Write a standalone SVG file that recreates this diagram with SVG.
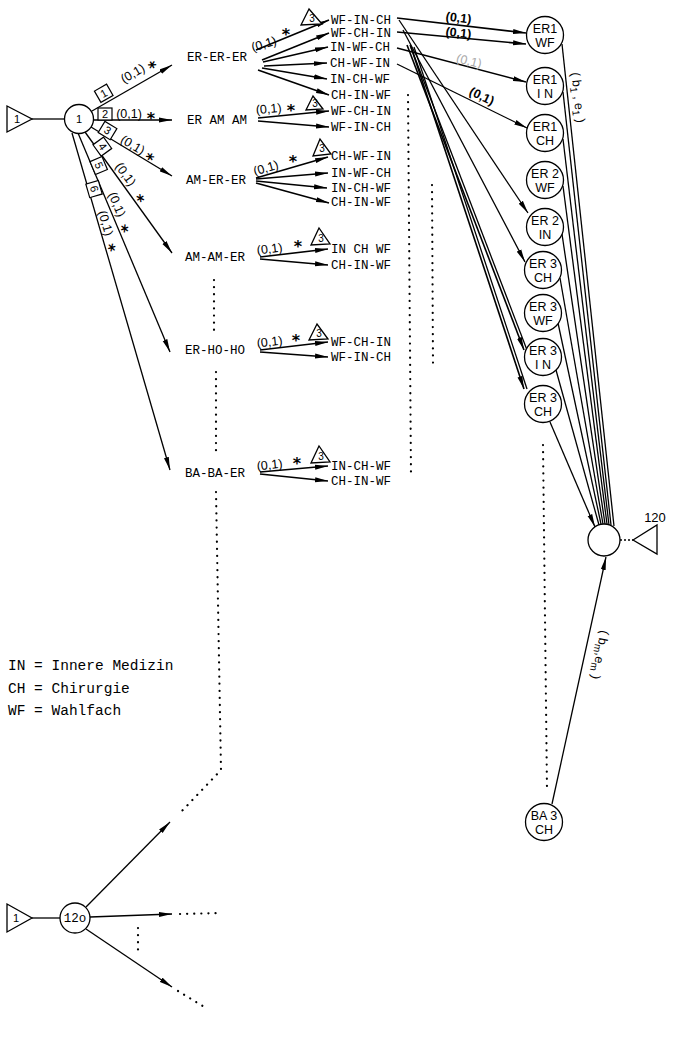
<svg xmlns="http://www.w3.org/2000/svg" width="680" height="1054" viewBox="0 0 680 1054">
<style>
.ln{stroke:#000;stroke-width:1.3;fill:none}
.lnb{stroke:#000;stroke-width:1.6;fill:none}
.dot{stroke:#000;stroke-width:2.2;fill:none;stroke-dasharray:0.1 7;stroke-linecap:round}
.nd{fill:#fff;stroke:#000;stroke-width:1.3}
.mono{font-family:"Liberation Mono","DejaVu Sans Mono",monospace;font-size:12.5px;fill:#000}
.leg{font-family:"Liberation Mono","DejaVu Sans Mono",monospace;font-size:14.5px;fill:#000}
.sans{font-family:"Liberation Sans",Arial,sans-serif;fill:#000}
.cl{font-family:"Liberation Sans",Arial,sans-serif;font-size:12.5px;fill:#000;text-anchor:middle}
.lab{font-family:"Liberation Sans",Arial,sans-serif;font-size:12.5px;fill:#000;text-anchor:middle}
.star{font-family:"DejaVu Sans",sans-serif;font-size:16px;font-weight:bold;fill:#000;text-anchor:middle}
.box{fill:#fff;stroke:#000;stroke-width:1.2}
</style>
<defs>
<marker id="ah" markerWidth="13" markerHeight="6" refX="13" refY="3" orient="auto" markerUnits="userSpaceOnUse"><path d="M0,0.5 L13,3 L0,5.5 z" fill="#000"/></marker>
</defs>
<rect width="680" height="1054" fill="#fff"/>

<g id="connectors">
  <line class="ln" x1="32" y1="119" x2="64" y2="119"/>
  <line class="ln" x1="92" y1="111" x2="172" y2="65" marker-end="url(#ah)"/>
  <line class="lnb" x1="94" y1="120" x2="172" y2="120" marker-end="url(#ah)"/>
  <line class="ln" x1="91" y1="127" x2="172" y2="176" marker-end="url(#ah)"/>
  <line class="ln" x1="85" y1="132" x2="172" y2="253" marker-end="url(#ah)"/>
  <line class="ln" x1="78" y1="133" x2="170" y2="352" marker-end="url(#ah)"/>
  <line class="ln" x1="72" y1="133" x2="170" y2="470" marker-end="url(#ah)"/>
  <line class="lnb" x1="256" y1="50" x2="329" y2="20" marker-end="url(#ah)"/>
  <line class="lnb" x1="262" y1="60" x2="329" y2="33" marker-end="url(#ah)"/>
  <line class="lnb" x1="263" y1="62" x2="328" y2="47" marker-end="url(#ah)"/>
  <line class="lnb" x1="264" y1="66" x2="327" y2="63" marker-end="url(#ah)"/>
  <line class="lnb" x1="262" y1="68" x2="327" y2="79" marker-end="url(#ah)"/>
  <line class="lnb" x1="258" y1="70" x2="329" y2="95" marker-end="url(#ah)"/>
  <line class="lnb" x1="258" y1="118" x2="329" y2="111" marker-end="url(#ah)"/>
  <line class="lnb" x1="258" y1="121" x2="329" y2="127" marker-end="url(#ah)"/>
  <line class="lnb" x1="256" y1="178" x2="328" y2="157" marker-end="url(#ah)"/>
  <line class="lnb" x1="256" y1="179" x2="328" y2="173" marker-end="url(#ah)"/>
  <line class="lnb" x1="256" y1="181" x2="327" y2="188" marker-end="url(#ah)"/>
  <line class="lnb" x1="256" y1="183" x2="329" y2="203" marker-end="url(#ah)"/>
  <line class="lnb" x1="260" y1="257" x2="328" y2="249" marker-end="url(#ah)"/>
  <line class="lnb" x1="260" y1="259" x2="328" y2="265" marker-end="url(#ah)"/>
  <line class="lnb" x1="260" y1="350" x2="328" y2="342" marker-end="url(#ah)"/>
  <line class="lnb" x1="260" y1="352" x2="328" y2="357" marker-end="url(#ah)"/>
  <line class="lnb" x1="260" y1="472" x2="328" y2="466" marker-end="url(#ah)"/>
  <line class="lnb" x1="260" y1="474" x2="328" y2="481" marker-end="url(#ah)"/>
  <line class="lnb" x1="397" y1="18" x2="526" y2="33" marker-end="url(#ah)"/>
  <line class="lnb" x1="397" y1="32" x2="526" y2="44" marker-end="url(#ah)"/>
  <line class="ln" x1="397" y1="48" x2="526" y2="82" marker-end="url(#ah)"/>
  <line class="ln" x1="397" y1="64" x2="527" y2="128" marker-end="url(#ah)"/>
  <line class="ln" x1="399" y1="20" x2="528" y2="213" marker-end="url(#ah)"/>
  <line class="ln" x1="403" y1="30" x2="525" y2="262" marker-end="url(#ah)"/>
  <line class="lnb" x1="407" y1="45" x2="524" y2="350" marker-end="url(#ah)"/>
  <line class="ln" x1="410" y1="45" x2="527" y2="350"/>
  <line class="lnb" x1="411" y1="47" x2="524" y2="389" marker-end="url(#ah)"/>
  <line class="ln" x1="414" y1="47" x2="527" y2="389"/>
  <line class="ln" x1="562" y1="44" x2="614" y2="526"/>
  <line class="ln" x1="563" y1="92" x2="611" y2="525"/>
  <line class="ln" x1="563" y1="139" x2="609" y2="525"/>
  <line class="ln" x1="563" y1="186" x2="607" y2="524"/>
  <line class="ln" x1="562" y1="234" x2="605" y2="524"/>
  <line class="ln" x1="560" y1="278" x2="603" y2="524"/>
  <line class="ln" x1="558" y1="323" x2="601" y2="524"/>
  <line class="ln" x1="556" y1="370" x2="599" y2="525"/>
  <line class="ln" x1="550" y1="422" x2="595" y2="527" marker-end="url(#ah)"/>
  <line class="ln" x1="552" y1="804" x2="606" y2="557" marker-end="url(#ah)"/>
  <line class="ln" x1="620" y1="540" x2="633" y2="540" stroke-dasharray="2 2"/>
  <line class="ln" x1="32" y1="918" x2="60" y2="918"/>
  <line class="ln" x1="86" y1="907" x2="170" y2="822" marker-end="url(#ah)"/>
  <line class="ln" x1="90" y1="917" x2="172" y2="914" marker-end="url(#ah)"/>
  <line class="ln" x1="86" y1="929" x2="172" y2="987" marker-end="url(#ah)"/>
  <line class="dot" x1="214" y1="280" x2="214" y2="330"/>
  <line class="dot" x1="216" y1="372" x2="216" y2="452"/>
  <polyline class="dot" points="216,492 221,770 180,813"/>
  <line class="dot" x1="408" y1="95" x2="411" y2="475"/>
  <line class="dot" x1="432" y1="185" x2="433" y2="365"/>
  <line class="dot" x1="543" y1="445" x2="547" y2="790"/>
  <line class="dot" x1="180" y1="914" x2="222" y2="913"/>
  <line class="dot" x1="178" y1="991" x2="206" y2="1008"/>
  <line class="dot" x1="138" y1="928" x2="138" y2="950"/>
</g>

<g id="label-e1" transform="translate(92,111) rotate(-29.9)">
  <rect class="box" x="12" y="-16" width="14" height="13"/>
  <text class="sans" x="19" y="-5.5" font-size="11" text-anchor="middle">1</text>
  <text class="lab" x="54" y="-8">(0,1)</text>
  <text class="star" x="75" y="-2">*</text>
</g>
<g id="label-e2" transform="translate(94,120)">
  <rect class="box" x="4" y="-12" width="14" height="12"/>
  <text class="sans" x="11" y="-2.5" font-size="11" text-anchor="middle">2</text>
  <text class="lab" x="35" y="-2">(0,1)</text>
  <text class="star" x="57" y="4">*</text>
</g>
<g id="label-e3" transform="translate(91,127) rotate(31.2)">
  <rect class="box" x="9" y="-12" width="14" height="13"/>
  <text class="sans" x="16" y="-2" font-size="11" text-anchor="middle">3</text>
  <text class="lab" x="45" y="-2">(0,1)</text>
  <text class="star" x="66" y="3">*</text>
</g>
<g id="label-e4" transform="translate(85,132) rotate(54.2)">
  <rect class="box" x="15" y="-12" width="14" height="13"/>
  <text class="sans" x="22" y="-2" font-size="11" text-anchor="middle">4</text>
  <text class="lab" x="58" y="-4">(0,1)</text>
  <text class="star" x="86" y="2">*</text>
</g>
<g id="label-e5" transform="translate(78,133) rotate(67.2)">
  <rect class="box" x="31" y="-13" width="14" height="13"/>
  <text class="sans" x="38" y="-3" font-size="11" text-anchor="middle">5</text>
  <text class="lab" x="81" y="-4">(0,1)</text>
  <text class="star" x="106" y="2">*</text>
</g>
<g id="label-e6" transform="translate(72,133) rotate(73.8)">
  <rect class="box" x="53" y="-12" width="14" height="13"/>
  <text class="sans" x="60" y="-2" font-size="11" text-anchor="middle">6</text>
  <text class="lab" x="96" y="-3">(0,1)</text>
  <text class="star" x="121" y="2">*</text>
</g>

<g id="label-gA">
  <text class="lab" transform="translate(265,48) rotate(-16)">(0,1)</text>
  <text class="star" x="286" y="40">*</text>
  <polygon class="nd" points="309,9 301,25 322,24"/>
  <text class="sans" x="312" y="22" font-size="10" text-anchor="middle">3</text>
</g>
<g id="label-gB">
  <text class="lab" transform="translate(269,113) rotate(-5)">(0,1)</text>
  <text class="star" x="291" y="116">*</text>
  <polygon class="nd" points="313,96 306,110 323,109"/>
  <text class="sans" x="315" y="107" font-size="10" text-anchor="middle">3</text>
</g>
<g id="label-gC">
  <text class="lab" transform="translate(267,172) rotate(-16)">(0,1)</text>
  <text class="star" x="293" y="167">*</text>
  <polygon class="nd" points="320,139 313,156 331,154"/>
  <text class="sans" x="322" y="152" font-size="10" text-anchor="middle">3</text>
</g>
<g id="label-gD">
  <text class="lab" transform="translate(270,253) rotate(-7)">(0,1)</text>
  <text class="star" x="298" y="252">*</text>
  <polygon class="nd" points="319,228 311,245 330,244"/>
  <text class="sans" x="321" y="242" font-size="10" text-anchor="middle">3</text>
</g>
<g id="label-gE">
  <text class="lab" transform="translate(270,346) rotate(-6)">(0,1)</text>
  <text class="star" x="296" y="346">*</text>
  <polygon class="nd" points="317,324 309,340 328,339"/>
  <text class="sans" x="319" y="337" font-size="10" text-anchor="middle">3</text>
</g>
<g id="label-gF">
  <text class="lab" transform="translate(270,469) rotate(-6)">(0,1)</text>
  <text class="star" x="297" y="469">*</text>
  <polygon class="nd" points="319,446 311,463 330,462"/>
  <text class="sans" x="321" y="460" font-size="10" text-anchor="middle">3</text>
</g>

<g id="label-t1"><text class="lab" font-weight="bold" transform="translate(458,22) rotate(7)">(0,1)</text></g>
<g id="label-t2"><text class="lab" font-weight="bold" transform="translate(458,37) rotate(6)">(0,1)</text></g>
<g id="label-t3"><text class="lab" style="fill:#aaa" transform="translate(468,65) rotate(14)">(0,1)</text></g>
<g id="label-t4"><text class="lab" font-weight="bold" transform="translate(480,100) rotate(25)">(0,1)</text></g>
<g id="label-b1"><text class="lab" font-size="13.5" transform="translate(574,98) rotate(84)">( b<tspan font-size="10" dy="3">1</tspan><tspan dy="-3"> , e</tspan><tspan font-size="10" dy="3">1</tspan><tspan dy="-3"> )</tspan></text></g>
<g id="label-bm"><text class="lab" font-size="13.5" transform="translate(596,654) rotate(101)">( b<tspan font-size="10" dy="3">m</tspan><tspan dy="-3">,e</tspan><tspan font-size="10" dy="3">m</tspan><tspan dy="-3"> )</tspan></text></g>

<g id="src-top"><polygon class="nd" points="7,106 32,119 7,132"/><text class="sans" x="14" y="123" font-size="11">1</text></g>
<g id="n1"><circle class="nd" cx="79" cy="119" r="14.5"/><text class="sans" x="79" y="123" font-size="11" text-anchor="middle">1</text></g>

<g id="l-ERERER"><text class="mono" x="187" y="61">ER-ER-ER</text></g>
<g id="l-ERAMAM"><text class="mono" x="187" y="124">ER AM AM</text></g>
<g id="l-AMERER"><text class="mono" x="186" y="184">AM-ER-ER</text></g>
<g id="l-AMAMER"><text class="mono" x="185" y="261">AM-AM-ER</text></g>
<g id="l-ERHOHO"><text class="mono" x="185" y="354">ER-HO-HO</text></g>
<g id="l-BABAER"><text class="mono" x="185" y="477">BA-BA-ER</text></g>

<g id="A1"><text class="mono" x="331" y="24">WF-IN-CH</text></g>
<g id="A2"><text class="mono" x="331" y="37">WF-CH-IN</text></g>
<g id="A3"><text class="mono" x="330" y="51">IN-WF-CH</text></g>
<g id="A4"><text class="mono" x="330" y="67">CH-WF-IN</text></g>
<g id="A5"><text class="mono" x="330" y="83">IN-CH-WF</text></g>
<g id="A6"><text class="mono" x="331" y="99">CH-IN-WF</text></g>
<g id="B1"><text class="mono" x="331" y="115">WF-CH-IN</text></g>
<g id="B2"><text class="mono" x="331" y="131">WF-IN-CH</text></g>
<g id="C1"><text class="mono" x="331" y="160">CH-WF-IN</text></g>
<g id="C2"><text class="mono" x="331" y="177">IN-WF-CH</text></g>
<g id="C3"><text class="mono" x="331" y="192">IN-CH-WF</text></g>
<g id="C4"><text class="mono" x="331" y="206">CH-IN-WF</text></g>
<g id="D1"><text class="mono" x="331" y="253">IN CH WF</text></g>
<g id="D2"><text class="mono" x="331" y="269">CH-IN-WF</text></g>
<g id="E1"><text class="mono" x="331" y="346">WF-CH-IN</text></g>
<g id="E2"><text class="mono" x="331" y="361">WF-IN-CH</text></g>
<g id="F1"><text class="mono" x="331" y="470">IN-CH-WF</text></g>
<g id="F2"><text class="mono" x="331" y="485">CH-IN-WF</text></g>

<g id="c-ER1WF"><circle class="nd" cx="545" cy="35" r="18.5"/><text class="cl" x="545" y="33">ER1</text><text class="cl" x="545" y="47">WF</text></g>
<g id="c-ER1IN"><circle class="nd" cx="545" cy="86" r="18.5"/><text class="cl" x="545" y="84">ER1</text><text class="cl" x="545" y="98">I N</text></g>
<g id="c-ER1CH"><circle class="nd" cx="545" cy="133" r="18.5"/><text class="cl" x="545" y="131">ER1</text><text class="cl" x="545" y="145">CH</text></g>
<g id="c-ER2WF"><circle class="nd" cx="545" cy="180" r="18.5"/><text class="cl" x="545" y="178">ER 2</text><text class="cl" x="545" y="192">WF</text></g>
<g id="c-ER2IN"><circle class="nd" cx="545" cy="227" r="18.5"/><text class="cl" x="545" y="225">ER 2</text><text class="cl" x="545" y="239">IN</text></g>
<g id="c-ER3CH"><circle class="nd" cx="543" cy="270" r="18.5"/><text class="cl" x="543" y="268">ER 3</text><text class="cl" x="543" y="282">CH</text></g>
<g id="c-ER3WF"><circle class="nd" cx="543" cy="313" r="18.5"/><text class="cl" x="543" y="311">ER 3</text><text class="cl" x="543" y="325">WF</text></g>
<g id="c-ER3IN"><circle class="nd" cx="543" cy="357" r="18.5"/><text class="cl" x="543" y="355">ER 3</text><text class="cl" x="543" y="369">I N</text></g>
<g id="c-ER3CH2"><circle class="nd" cx="543" cy="404" r="18.5"/><text class="cl" x="543" y="402">ER 3</text><text class="cl" x="543" y="416">CH</text></g>
<g id="c-BA3CH"><circle class="nd" cx="544" cy="822" r="18.5"/><text class="cl" x="544" y="820">BA 3</text><text class="cl" x="544" y="834">CH</text></g>

<g id="sink"><circle class="nd" cx="604" cy="540" r="16"/></g>
<g id="sink-tri"><polygon class="nd" points="633,540 657,525 657,554"/><text class="sans" x="655" y="522" font-size="13" text-anchor="middle">120</text></g>

<g id="legend">
  <text class="leg" x="8" y="670">IN = Innere Medizin</text>
  <text class="leg" x="8" y="693">CH = Chirurgie</text>
  <text class="leg" x="8" y="715">WF = Wahlfach</text>
</g>

<g id="src-bottom"><polygon class="nd" points="7,904 32,918 7,932"/><text class="sans" x="13" y="922" font-size="11">1</text></g>
<g id="n120"><circle class="nd" cx="75" cy="918" r="15"/><text class="mono" x="75" y="922" font-size="11" text-anchor="middle">12o</text></g>
</svg>
